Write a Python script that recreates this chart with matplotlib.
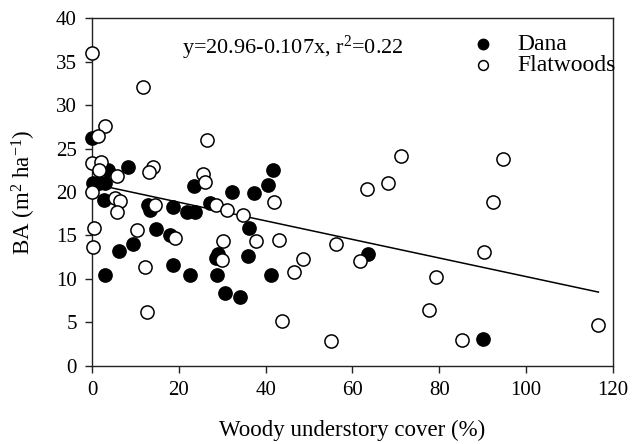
import matplotlib
matplotlib.use('Agg')
import numpy as np
import matplotlib.pyplot as plt

plt.rcParams['font.family'] = ['Liberation Serif', 'DejaVu Serif']
plt.rcParams['mathtext.fontset'] = 'custom'
plt.rcParams['mathtext.rm'] = 'Liberation Serif'
plt.rcParams['mathtext.it'] = 'Liberation Serif'

# Dana sites: woody understory cover (%) and basal area (m2/ha)
dana_cover = [0, 0.2, 1.6, 3.0, 3.6, 2.8, 3.0, 6.3, 8.4, 9.5, 13.0, 13.4, 14.7, 17.9,
              18.7, 18.7, 21.8, 23.7, 22.6, 23.5, 27.3, 28.6, 29.1, 28.7, 30.6, 32.2,
              34.1, 36.2, 35.9, 37.3, 40.6, 41.2, 41.8, 63.7, 90.2]
dana_ba = [26.2, 21.0, 21.0, 21.0, 22.5, 19.1, 10.45, 13.2, 22.9, 14.0, 18.5, 17.9, 15.7, 15.1,
           18.3, 11.6, 17.7, 17.7, 10.45, 20.7, 18.7, 12.4, 12.9, 10.45, 8.4, 20.0,
           7.9, 15.9, 12.6, 19.85, 20.8, 10.45, 22.5, 12.9, 3.1]

# Flatwoods sites
flat_cover = [0, 11.7, 3.0, 1.3, 26.4, 0, 2.1, 1.6, 14.1, 13.2, 5.7, 25.5, 26.0, 0,
              5.3, 6.5, 5.8, 14.5, 28.6, 31.2, 34.9, 42.0, 0.5, 0.2, 10.3, 19.1, 30.1,
              37.8, 43.2, 29.9, 12.2, 12.6, 43.8, 71.1, 63.4, 68.3, 56.2, 48.7, 46.6,
              61.8, 55.0, 79.3, 77.7, 94.8, 92.5, 90.3, 85.2, 116.7]
flat_ba = [36.0, 32.1, 27.6, 26.4, 26.0, 23.3, 23.4, 22.5, 22.9, 22.3, 21.8, 22.1, 21.2, 20.0,
           19.3, 19.0, 17.7, 18.5, 18.5, 17.9, 17.3, 18.9, 15.8, 13.7, 15.6, 14.7, 14.4,
           14.3, 14.5, 12.2, 11.4, 6.2, 5.1, 24.1, 20.3, 21.0, 14.0, 12.25, 10.75,
           12.1, 2.85, 10.25, 6.4, 23.8, 18.8, 13.1, 2.95, 4.7]

# regression reported on the figure
intercept = 20.96
slope = -0.107

fig = plt.figure(figsize=(6.33, 4.44), dpi=100)
ax = fig.add_axes([0.1453, 0.1764, 0.8227, 0.7824])

ax.scatter(dana_cover, dana_ba, s=90, facecolor='black', edgecolor='black',
           linewidth=1.1, label='Dana', zorder=3, clip_on=False)
ax.scatter(flat_cover, flat_ba, s=90, facecolor='white', edgecolor='black',
           linewidth=1.1, label='Flatwoods', zorder=3, clip_on=False)

all_x = np.array(dana_cover + flat_cover)
xl = np.array([0, all_x.max()])
ax.plot(xl, intercept + slope * xl, color='black', linewidth=1.1, zorder=2)

ax.text(0.172, 0.914, 'y=20.96-0.107x, r$^2$=0.22', transform=ax.transAxes,
        fontsize=16, va='center', ha='left')

leg = ax.legend(loc='center left', bbox_to_anchor=(0.692, 0.895), frameon=False,
                fontsize=17, labelspacing=0.0, handletextpad=0.64, handlelength=1.6,
                markerscale=0.78, borderpad=0)
leg.legend_handles[1].set_sizes([50])

ax.set_xlim(0, 120)
ax.set_ylim(0, 40)
ax.set_xticks(range(0, 121, 20))
ax.set_yticks(range(0, 41, 5))
ax.tick_params(direction='out', length=5, width=1, labelsize=15, pad=6, color='#222222')
for sp in ax.spines.values():
    sp.set_linewidth(1.0)
    sp.set_color('#222222')

ax.set_xlabel('Woody understory cover (%)', fontsize=16.5, labelpad=14)
ax.set_ylabel('BA (m$^2$ ha$^{-1}$)', fontsize=16.5, labelpad=13)

fig.savefig('out.png', dpi=100)
